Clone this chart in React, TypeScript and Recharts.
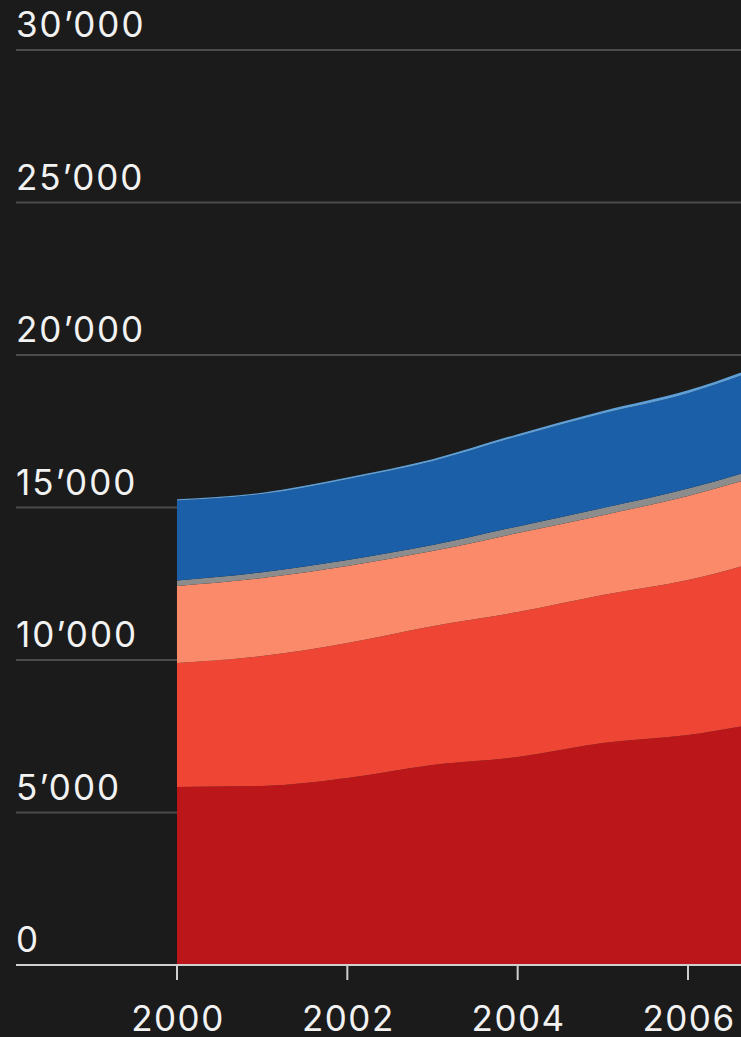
import React from "react";
import { AreaChart, Area, XAxis, YAxis, CartesianGrid } from "recharts";

const years = [2000, 2001, 2002, 2003, 2004, 2005, 2006, 2007];
const darkRed = [5840, 5870, 6130, 6560, 6820, 7280, 7540, 8020];
const red = [4060, 4260, 4430, 4550, 4750, 4850, 5080, 5350];
const salmon = [2530, 2560, 2520, 2460, 2590, 2620, 2760, 2800];
const gray = [180, 190, 200, 200, 220, 230, 240, 250];
const blue = [2620, 2560, 2650, 2750, 2950, 3100, 3130, 3300];
const lightBlue = [40, 45, 55, 65, 75, 85, 95, 105];

const yTicks = [0, 5000, 10000, 15000, 20000, 25000, 30000];
const xTicks = [2000, 2002, 2004, 2006];

const data = years.map((year, i) => ({
  year,
  darkRed: darkRed[i],
  red: red[i],
  salmon: salmon[i],
  gray: gray[i],
  blue: blue[i],
  lightBlue: lightBlue[i],
}));

const FONT = "Inter, 'Liberation Sans', Arial, sans-serif";

const fmt = (v: number) => {
  if (v === 0) return "0";
  const s = String(v);
  return s.slice(0, s.length - 3) + "\u2019" + s.slice(s.length - 3);
};

const YTick = (props: any) => {
  const { y, payload } = props;
  return (
    <text
      x={16}
      y={y - 13}
      fill="#f2f2f2"
      fontSize={35}
      fontFamily={FONT}
      letterSpacing={2}
      textAnchor="start"
    >
      {fmt(payload.value)}
    </text>
  );
};

const XTick = (props: any) => {
  const { x, y, payload } = props;
  return (
    <text
      x={x + 1}
      y={y}
      dy={24}
      fill="#f2f2f2"
      fontSize={35}
      fontFamily={FONT}
      letterSpacing={1.5}
      textAnchor="middle"
    >
      {payload.value}
    </text>
  );
};

export default function App() {
  return (
    <div
      style={{
        position: "absolute",
        left: 0,
        top: 0,
        width: 741,
        height: 1037,
        overflow: "hidden",
        background: "#1b1b1b",
      }}
    >
      <AreaChart
        width={741}
        height={1037}
        data={data}
        margin={{ top: 50, right: 0, bottom: 0, left: 0 }}
      >
        <CartesianGrid vertical={false} stroke="#4c4c4c" strokeWidth={2} />
        <XAxis
          dataKey="year"
          type="number"
          domain={[1998.11, 2006.622]}
          allowDataOverflow
          ticks={xTicks}
          height={72}
          axisLine={{ stroke: "#cfcfcf", strokeWidth: 2 }}
          tickLine={{ stroke: "#cfcfcf", strokeWidth: 2 }}
          tickSize={15}
          tickMargin={27}
          tick={<XTick />}
          interval={0}
        />
        <YAxis
          width={16}
          domain={[0, 30000]}
          ticks={yTicks}
          axisLine={false}
          tickLine={false}
          tick={<YTick />}
          interval={0}
        />
        <Area type="monotone" dataKey="darkRed" stackId="1" stroke="none" fill="#bb171b" fillOpacity={1} isAnimationActive={false} />
        <Area type="monotone" dataKey="red" stackId="1" stroke="none" fill="#ef4535" fillOpacity={1} isAnimationActive={false} />
        <Area type="monotone" dataKey="salmon" stackId="1" stroke="none" fill="#fb8a6a" fillOpacity={1} isAnimationActive={false} />
        <Area type="monotone" dataKey="gray" stackId="1" stroke="none" fill="#8c8c8c" fillOpacity={1} isAnimationActive={false} />
        <Area type="monotone" dataKey="blue" stackId="1" stroke="none" fill="#1b5fa8" fillOpacity={1} isAnimationActive={false} />
        <Area type="monotone" dataKey="lightBlue" stackId="1" stroke="none" fill="#5e9fd8" fillOpacity={1} isAnimationActive={false} />
      </AreaChart>
    </div>
  );
}
